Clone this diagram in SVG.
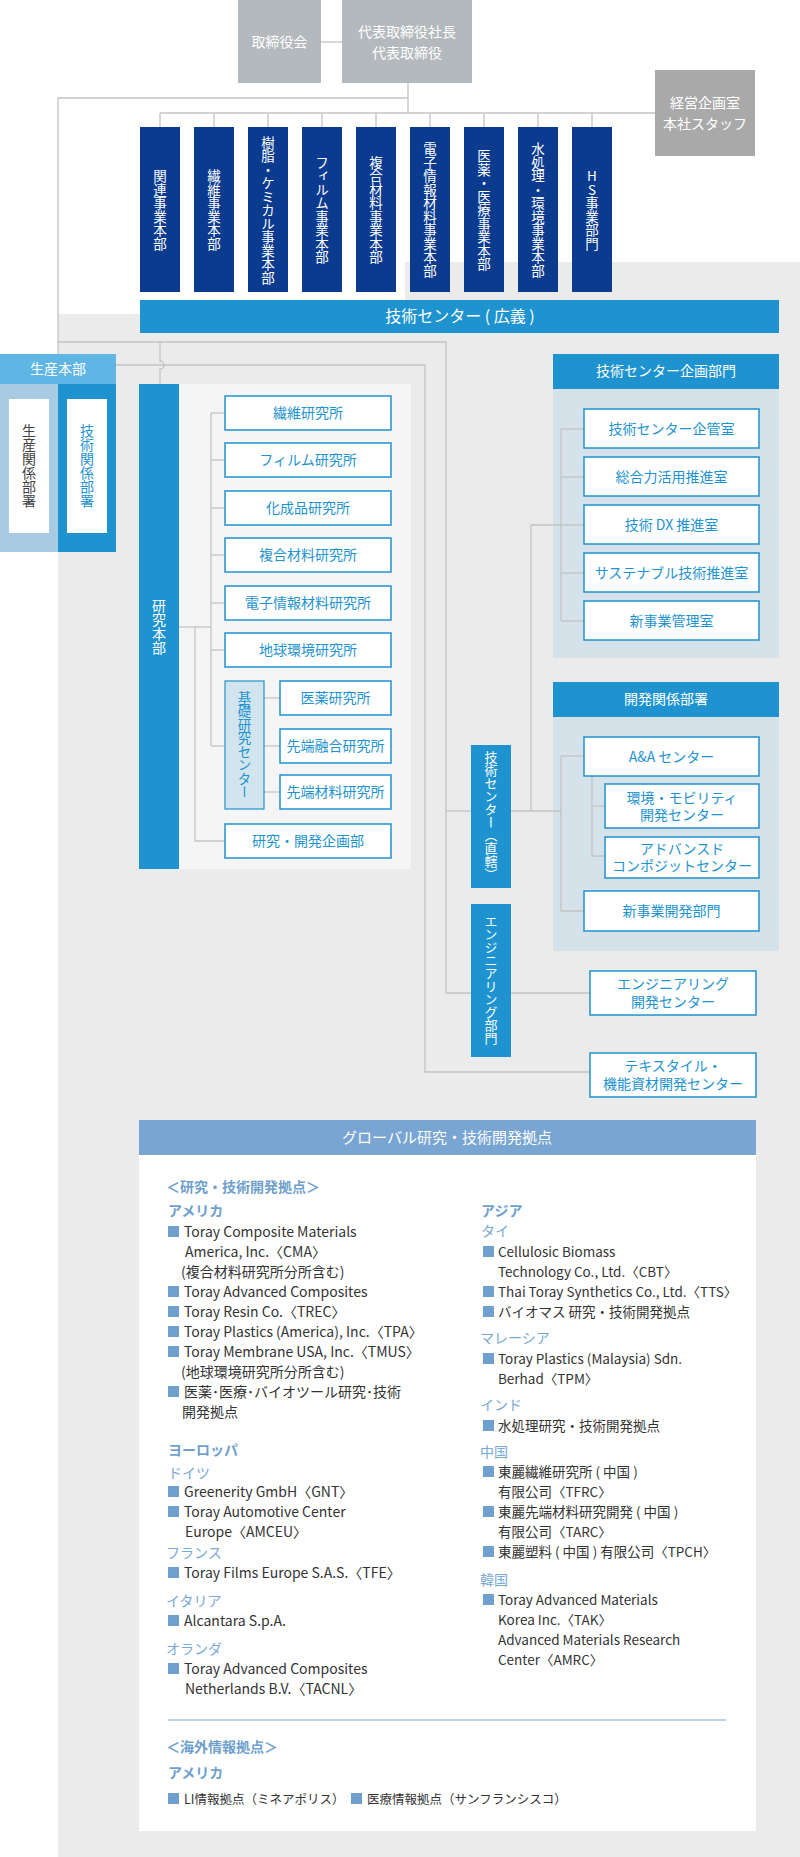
<svg xmlns="http://www.w3.org/2000/svg" width="800" height="1857" viewBox="0 0 800 1857">
<style>
text{font-family:"Noto Sans CJK JP","Noto Sans",sans-serif;}
.w{fill:#fff;font-size:14px;text-anchor:middle;}
.v{writing-mode:vertical-rl;}
.navy{fill:#0b3b8f;}
.blue{fill:#1e93d0;}
.lb{fill:#fff;stroke:#1e93d0;stroke-width:1.5;}
.bt{fill:#1e93d0;font-size:14px;text-anchor:middle;}
.ln{fill:none;stroke:#c3c3c3;stroke-width:1.3;}
.g{font-size:14px;fill:#333;}
.h{font-size:14px;fill:#6f9fcd;font-weight:bold;}
.r{font-size:14px;fill:#7aa9d6;}
.sq{fill:#6f9fcd;}
</style>
<rect width="800" height="1857" fill="#fff"/>
<g id="background">
<polygon points="405,262 800,262 800,1857 58,1857 58,314 405,314" fill="#ebebeb"/>
<rect x="139" y="384" width="272" height="485" fill="#f5f5f5"/>
<rect x="553" y="389" width="226" height="269" fill="#d6e2ea"/>
<rect x="553" y="717" width="226" height="234" fill="#d6e2ea"/>
<rect x="139" y="1155" width="617" height="676" fill="#fff"/>
</g>
<g id="connectors" class="ln">
<line x1="321" y1="42" x2="342" y2="42"/>
<polyline points="408,83 408,113"/>
<polyline points="408,98 58,98 58,354"/>
<line x1="160" y1="113" x2="655" y2="113"/>
<line x1="160" y1="113" x2="160" y2="127"/><line x1="214" y1="113" x2="214" y2="127"/><line x1="268" y1="113" x2="268" y2="127"/><line x1="322" y1="113" x2="322" y2="127"/><line x1="376" y1="113" x2="376" y2="127"/><line x1="430" y1="113" x2="430" y2="127"/><line x1="484" y1="113" x2="484" y2="127"/><line x1="538" y1="113" x2="538" y2="127"/><line x1="592" y1="113" x2="592" y2="127"/>
<polyline points="58,342 446,342 446,993 590,993"/>
<path d="M160,342 V361 a4,4 0 0 1 0,8 V384"/>
<polyline points="116,365 425,365 425,1072 590,1072"/>
<line x1="446" y1="811" x2="471" y2="811"/>
<line x1="179" y1="627" x2="211" y2="627"/>
<polyline points="211,413 211,746"/>
<line x1="211" y1="413" x2="225" y2="413"/><line x1="211" y1="460" x2="225" y2="460"/><line x1="211" y1="508" x2="225" y2="508"/><line x1="211" y1="555" x2="225" y2="555"/><line x1="211" y1="603" x2="225" y2="603"/><line x1="211" y1="650" x2="225" y2="650"/><line x1="211" y1="746" x2="225" y2="746"/>
<polyline points="195,627 195,841 225,841"/>
<line x1="264" y1="698" x2="280" y2="698"/><line x1="264" y1="746" x2="280" y2="746"/><line x1="264" y1="792" x2="280" y2="792"/>
<line x1="511" y1="811" x2="561" y2="811"/>
<polyline points="531,811 531,525 561,525"/>
<polyline points="561,429 561,621"/>
<line x1="561" y1="429" x2="584" y2="429"/><line x1="561" y1="477" x2="584" y2="477"/><line x1="561" y1="525" x2="584" y2="525"/><line x1="561" y1="573" x2="584" y2="573"/><line x1="561" y1="621" x2="584" y2="621"/>
<polyline points="561,756 561,911 584,911"/>
<line x1="561" y1="756" x2="584" y2="756"/>
<polyline points="592,776 592,856 605,856"/>
<line x1="592" y1="806" x2="605" y2="806"/>
</g>
<g id="top">
<rect x="238" y="0" width="83" height="83" fill="#b3b9bd"/>
<text class="w" x="279.5" y="47">取締役会</text>
<rect x="342" y="0" width="130" height="83" fill="#b3b9bd"/>
<text class="w" x="407" y="37">代表取締役社長</text>
<text class="w" x="407" y="58">代表取締役</text>
<rect x="655" y="70" width="100" height="86" fill="#a9a9a9"/>
<text class="w" x="705" y="108">経営企画室</text>
<text class="w" x="705" y="129">本社スタッフ</text>
</g>
<g id="business-units">
<rect class="navy" x="140" y="127" width="40" height="165"/><text class="w v" x="160" y="210" style="font-size:13.5px">関連事業本部</text>
<rect class="navy" x="194" y="127" width="40" height="165"/><text class="w v" x="214" y="210" style="font-size:13.5px">繊維事業本部</text>
<rect class="navy" x="248" y="127" width="40" height="165"/><text class="w v" x="268" y="210" style="font-size:13.5px">樹脂・ケミカル事業本部</text>
<rect class="navy" x="302" y="127" width="40" height="165"/><text class="w v" x="322" y="210" style="font-size:13.5px">フィルム事業本部</text>
<rect class="navy" x="356" y="127" width="40" height="165"/><text class="w v" x="376" y="210" style="font-size:13.5px">複合材料事業本部</text>
<rect class="navy" x="410" y="127" width="40" height="165"/><text class="w v" x="430" y="210" style="font-size:13.5px">電子情報材料事業本部</text>
<rect class="navy" x="464" y="127" width="40" height="165"/><text class="w v" x="484" y="210" style="font-size:13.5px">医薬・医療事業本部</text>
<rect class="navy" x="518" y="127" width="40" height="165"/><text class="w v" x="538" y="210" style="font-size:13.5px">水処理・環境事業本部</text>
<rect class="navy" x="572" y="127" width="40" height="165"/><text class="w v" x="592" y="210" style="font-size:13.5px;text-orientation:upright">HS事業部門</text>
</g>
<g id="tech-center-broad">
<rect class="blue" x="140" y="300" width="639" height="33"/>
<text class="w" x="460" y="322" style="font-size:16px">技術センター ( 広義 )</text>
</g>
<g id="production">
<rect x="0" y="354" width="116" height="30" fill="#5fb5e4"/>
<text class="w" x="58" y="374">生産本部</text>
<rect x="0" y="384" width="58" height="168" fill="#a8cbe3"/>
<rect class="blue" x="58" y="384" width="58" height="168"/>
<rect x="9" y="399" width="40" height="134" fill="#fff"/>
<text class="v" x="29" y="466" style="font-size:14px;fill:#444;text-anchor:middle">生産関係部署</text>
<rect x="67" y="399" width="40" height="134" fill="#fff"/>
<text class="bt v" x="87" y="466">技術関係部署</text>
</g>
<g id="research">
<rect class="blue" x="139" y="384" width="40" height="485"/>
<text class="w v" x="159" y="627">研究本部</text>
<rect class="lb" x="225" y="396" width="166" height="34"/><text class="bt" x="308" y="418">繊維研究所</text>
<rect class="lb" x="225" y="443" width="166" height="34"/><text class="bt" x="308" y="465">フィルム研究所</text>
<rect class="lb" x="225" y="491" width="166" height="34"/><text class="bt" x="308" y="513">化成品研究所</text>
<rect class="lb" x="225" y="538" width="166" height="34"/><text class="bt" x="308" y="560">複合材料研究所</text>
<rect class="lb" x="225" y="586" width="166" height="34"/><text class="bt" x="308" y="608">電子情報材料研究所</text>
<rect class="lb" x="225" y="633" width="166" height="34"/><text class="bt" x="308" y="655">地球環境研究所</text>
<rect x="225" y="681" width="39" height="128" fill="#d2e4ee" stroke="#1e93d0" stroke-width="1.2"/>
<text class="bt v" x="244.5" y="745" style="font-size:13.5px">基礎研究センター</text>
<rect class="lb" x="280" y="681" width="111" height="34"/><text class="bt" x="335.5" y="703">医薬研究所</text>
<rect class="lb" x="280" y="729" width="111" height="34"/><text class="bt" x="335.5" y="751">先端融合研究所</text>
<rect class="lb" x="280" y="775" width="111" height="34"/><text class="bt" x="335.5" y="797">先端材料研究所</text>
<rect class="lb" x="225" y="824" width="166" height="34"/><text class="bt" x="308" y="846">研究・開発企画部</text>
</g>
<g id="planning">
<rect class="blue" x="553" y="354" width="226" height="35"/>
<text class="w" x="666" y="376">技術センター企画部門</text>
<rect class="lb" x="584" y="409" width="175" height="39"/><text class="bt" x="671.5" y="434">技術センター企管室</text>
<rect class="lb" x="584" y="457" width="175" height="39"/><text class="bt" x="671.5" y="482">総合力活用推進室</text>
<rect class="lb" x="584" y="505" width="175" height="39"/><text class="bt" x="671.5" y="530">技術 DX 推進室</text>
<rect class="lb" x="584" y="553" width="175" height="39"/><text class="bt" x="671.5" y="578">サステナブル技術推進室</text>
<rect class="lb" x="584" y="601" width="175" height="39"/><text class="bt" x="671.5" y="626">新事業管理室</text>
</g>
<g id="development">
<rect class="blue" x="553" y="682" width="226" height="35"/>
<text class="w" x="666" y="704">開発関係部署</text>
<rect class="lb" x="584" y="737" width="175" height="39"/><text class="bt" x="671.5" y="762">A&amp;A センター</text>
<rect class="lb" x="605" y="784" width="154" height="44"/><text class="bt" x="682" y="803">環境・モビリティ</text><text class="bt" x="682" y="820">開発センター</text>
<rect class="lb" x="605" y="837" width="154" height="41"/><text class="bt" x="682" y="854">アドバンスド</text><text class="bt" x="682" y="871">コンポジットセンター</text>
<rect class="lb" x="584" y="891" width="175" height="40"/><text class="bt" x="671.5" y="916">新事業開発部門</text>
</g>
<g id="direct">
<rect class="blue" x="471" y="745" width="40" height="143"/>
<text class="w v" x="491" y="816" style="font-size:13px">技術センター（直轄）</text>
<rect class="blue" x="471" y="904" width="40" height="153"/>
<text class="w v" x="491" y="980" style="font-size:13px">エンジニアリング部門</text>
<rect class="lb" x="590" y="971" width="166" height="44"/><text class="bt" x="673" y="989">エンジニアリング</text><text class="bt" x="673" y="1007">開発センター</text>
<rect class="lb" x="590" y="1053" width="166" height="44"/><text class="bt" x="673" y="1071">テキスタイル・</text><text class="bt" x="673" y="1089">機能資材開発センター</text>
</g>
<g id="global">
<rect x="139" y="1120" width="617" height="35" fill="#78a5d2"/>
<text class="w" x="447" y="1143" style="font-size:15px">グローバル研究・技術開発拠点</text>
<text class="h" x="166" y="1192">＜研究・技術開発拠点＞</text>
<text class="h" x="168" y="1216">アメリカ</text>
<g class="g">
<rect class="sq" x="168" y="1226" width="11" height="11"/><text x="184" y="1237">Toray Composite Materials</text>
<text x="185" y="1257">America, Inc.〈CMA〉</text>
<text x="181" y="1277">(複合材料研究所分所含む)</text>
<rect class="sq" x="168" y="1286" width="11" height="11"/><text x="184" y="1297">Toray Advanced Composites</text>
<rect class="sq" x="168" y="1306" width="11" height="11"/><text x="184" y="1317">Toray Resin Co.〈TREC〉</text>
<rect class="sq" x="168" y="1326" width="11" height="11"/><text x="184" y="1337">Toray Plastics (America), Inc.〈TPA〉</text>
<rect class="sq" x="168" y="1346" width="11" height="11"/><text x="184" y="1357">Toray Membrane USA, Inc.〈TMUS〉</text>
<text x="181" y="1377">(地球環境研究所分所含む)</text>
<rect class="sq" x="168" y="1386" width="11" height="11"/><text x="184" y="1397">医薬･医療･バイオツール研究･技術</text>
<text x="182" y="1417">開発拠点</text>
</g>
<text class="h" x="168" y="1455">ヨーロッパ</text>
<text class="r" x="168" y="1478">ドイツ</text>
<g class="g">
<rect class="sq" x="168" y="1486" width="11" height="11"/><text x="184" y="1497">Greenerity GmbH〈GNT〉</text>
<rect class="sq" x="168" y="1506" width="11" height="11"/><text x="184" y="1517">Toray Automotive Center</text>
<text x="185" y="1537">Europe〈AMCEU〉</text>
</g>
<text class="r" x="166" y="1558">フランス</text>
<g class="g"><rect class="sq" x="168" y="1567" width="11" height="11"/><text x="184" y="1578">Toray Films Europe S.A.S.〈TFE〉</text></g>
<text class="r" x="166" y="1606">イタリア</text>
<g class="g"><rect class="sq" x="168" y="1615" width="11" height="11"/><text x="184" y="1626">Alcantara S.p.A.</text></g>
<text class="r" x="166" y="1654">オランダ</text>
<g class="g">
<rect class="sq" x="168" y="1663" width="11" height="11"/><text x="184" y="1674">Toray Advanced Composites</text>
<text x="185" y="1694">Netherlands B.V.〈TACNL〉</text>
</g>
<text class="h" x="481" y="1216">アジア</text>
<text class="r" x="481" y="1236">タイ</text>
<g class="g" style="font-size:13.5px">
<rect class="sq" x="483" y="1246" width="11" height="11"/><text x="498" y="1257">Cellulosic Biomass</text>
<text x="498" y="1277">Technology Co., Ltd.〈CBT〉</text>
<rect class="sq" x="483" y="1286" width="11" height="11"/><text x="498" y="1297">Thai Toray Synthetics Co., Ltd.〈TTS〉</text>
<rect class="sq" x="483" y="1306" width="11" height="11"/><text x="498" y="1317">バイオマス 研究・技術開発拠点</text>
</g>
<text class="r" x="480" y="1343">マレーシア</text>
<g class="g" style="font-size:13.5px">
<rect class="sq" x="483" y="1353" width="11" height="11"/><text x="498" y="1364">Toray Plastics (Malaysia) Sdn.</text>
<text x="498" y="1384">Berhad〈TPM〉</text>
</g>
<text class="r" x="480" y="1410">インド</text>
<g class="g" style="font-size:13.5px"><rect class="sq" x="483" y="1420" width="11" height="11"/><text x="498" y="1431">水処理研究・技術開発拠点</text></g>
<text class="r" x="480" y="1457">中国</text>
<g class="g" style="font-size:13.5px">
<rect class="sq" x="483" y="1466" width="11" height="11"/><text x="498" y="1477">東麗繊維研究所 ( 中国 )</text>
<text x="498" y="1497">有限公司〈TFRC〉</text>
<rect class="sq" x="483" y="1506" width="11" height="11"/><text x="498" y="1517">東麗先端材料研究開発 ( 中国 )</text>
<text x="498" y="1537">有限公司〈TARC〉</text>
<rect class="sq" x="483" y="1546" width="11" height="11"/><text x="498" y="1557">東麗塑料 ( 中国 ) 有限公司〈TPCH〉</text>
</g>
<text class="r" x="480" y="1585">韓国</text>
<g class="g" style="font-size:13.5px">
<rect class="sq" x="483" y="1594" width="11" height="11"/><text x="498" y="1605">Toray Advanced Materials</text>
<text x="498" y="1625">Korea Inc.〈TAK〉</text>
<text x="498" y="1645">Advanced Materials Research</text>
<text x="498" y="1665">Center〈AMRC〉</text>
</g>
<line x1="168" y1="1720" x2="726" y2="1720" stroke="#a9c4df" stroke-width="1.3"/>
<text class="h" x="166" y="1752">＜海外情報拠点＞</text>
<text class="h" x="168" y="1778">アメリカ</text>
<g class="g" style="font-size:12.5px">
<rect class="sq" x="168" y="1793" width="11" height="11"/><text x="184" y="1804">LI情報拠点（ミネアポリス）</text>
<rect class="sq" x="351" y="1793" width="11" height="11"/><text x="367" y="1804">医療情報拠点（サンフランシスコ）</text>
</g>
</g>
</svg>
